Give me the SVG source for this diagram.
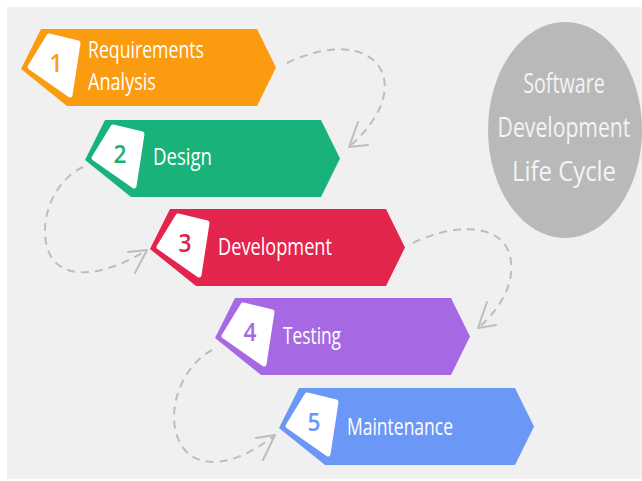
<svg xmlns="http://www.w3.org/2000/svg" width="642" height="481" viewBox="0 0 642 481">
<style>
.bg{fill:#f0f0f0}
.badge{fill:#ffffff;stroke:#ffffff;stroke-width:5;stroke-linejoin:round}
.num{font-family:"Open Sans","Noto Sans",sans-serif;font-size:26px;font-weight:600;text-anchor:middle}
.lbl{font-family:"Open Sans","Noto Sans",sans-serif;font-size:23px;font-weight:500;fill:#ffffff}
.ctext{font-family:"Open Sans","Noto Sans",sans-serif;font-size:27px;font-weight:500;fill:#f4f4f4;text-anchor:middle}
.dash{fill:none;stroke:#bdbdbd;stroke-width:2;stroke-dasharray:8 6}
.head{fill:none;stroke:#bdbdbd;stroke-width:2;stroke-linecap:round;stroke-linejoin:round}
</style>
<defs>
<path id="shape" d="M20,0 L236,0 L255,38.5 L236,77 L46,77 L0,40 Z"/>
<path id="badgeShape" d="M28,7 L57,14 L49,66 L9,38 Z"/>
</defs>
<rect x="0" y="0" width="642" height="481" fill="#ffffff"/>
<rect class="bg" x="7" y="7" width="635" height="472"/>

<g id="title">
<ellipse cx="565" cy="130" rx="77" ry="108" fill="#b9b9b9"/>
<g transform="translate(564,0) scale(0.8,1)">
<text class="ctext" x="0" y="93" textLength="102" lengthAdjust="spacingAndGlyphs">Software</text>
<text class="ctext" x="0" y="137" textLength="166" lengthAdjust="spacingAndGlyphs">Development</text>
<text class="ctext" x="0" y="181" textLength="130" lengthAdjust="spacingAndGlyphs">Life Cycle</text>
</g>
</g>

<g id="connectors">
<path class="dash" d="M287,63 C320,47 360,42 378,65 C392,85 385,115 349,147"/>
<polyline class="head" points="358,122 349,147 368,145"/>
<path class="dash" d="M83,167 C45,185 35,240 55,262 C75,282 115,270 147,250"/>
<polyline class="head" points="128,252 147,250 135,273"/>
<path class="dash" d="M413,243 C450,225 495,222 508,250 C518,275 505,305 478,328"/>
<polyline class="head" points="487,302 478,328 496,325"/>
<path class="dash" d="M212,350 C175,370 160,430 190,455 C215,472 250,455 275,435"/>
<polyline class="head" points="256,438 275,435 263,460"/>
</g>

<g id="step1" transform="translate(21,29)">
<use href="#shape" fill="#fb9b0f"/>
<use href="#badgeShape" class="badge"/>
<text class="num" x="35" y="43" fill="#fb9b0f" textLength="13" lengthAdjust="spacingAndGlyphs">1</text>
<text class="lbl" x="67" y="29" textLength="116" lengthAdjust="spacingAndGlyphs">Requirements</text>
<text class="lbl" x="67" y="61" textLength="68" lengthAdjust="spacingAndGlyphs">Analysis</text>
</g>

<g id="step2" transform="translate(85,120)">
<use href="#shape" fill="#1ab27b"/>
<use href="#badgeShape" class="badge"/>
<text class="num" x="35" y="43" fill="#1ab27b" textLength="13" lengthAdjust="spacingAndGlyphs">2</text>
<text class="lbl" x="68" y="45" textLength="59" lengthAdjust="spacingAndGlyphs">Design</text>
</g>

<g id="step3" transform="translate(150,209)">
<use href="#shape" fill="#e3244c"/>
<use href="#badgeShape" class="badge"/>
<text class="num" x="35" y="43" fill="#e3244c" textLength="13" lengthAdjust="spacingAndGlyphs">3</text>
<text class="lbl" x="68" y="46" textLength="114" lengthAdjust="spacingAndGlyphs">Development</text>
</g>

<g id="step4" transform="translate(215,298)">
<use href="#shape" fill="#a769e3"/>
<use href="#badgeShape" class="badge"/>
<text class="num" x="35" y="43" fill="#a769e3" textLength="13" lengthAdjust="spacingAndGlyphs">4</text>
<text class="lbl" x="68" y="46" textLength="58" lengthAdjust="spacingAndGlyphs">Testing</text>
</g>

<g id="step5" transform="translate(279,388)">
<use href="#shape" fill="#6b97f7"/>
<use href="#badgeShape" class="badge"/>
<text class="num" x="35" y="43" fill="#6b97f7" textLength="13" lengthAdjust="spacingAndGlyphs">5</text>
<text class="lbl" x="68" y="47" textLength="106" lengthAdjust="spacingAndGlyphs">Maintenance</text>
</g>
</svg>
